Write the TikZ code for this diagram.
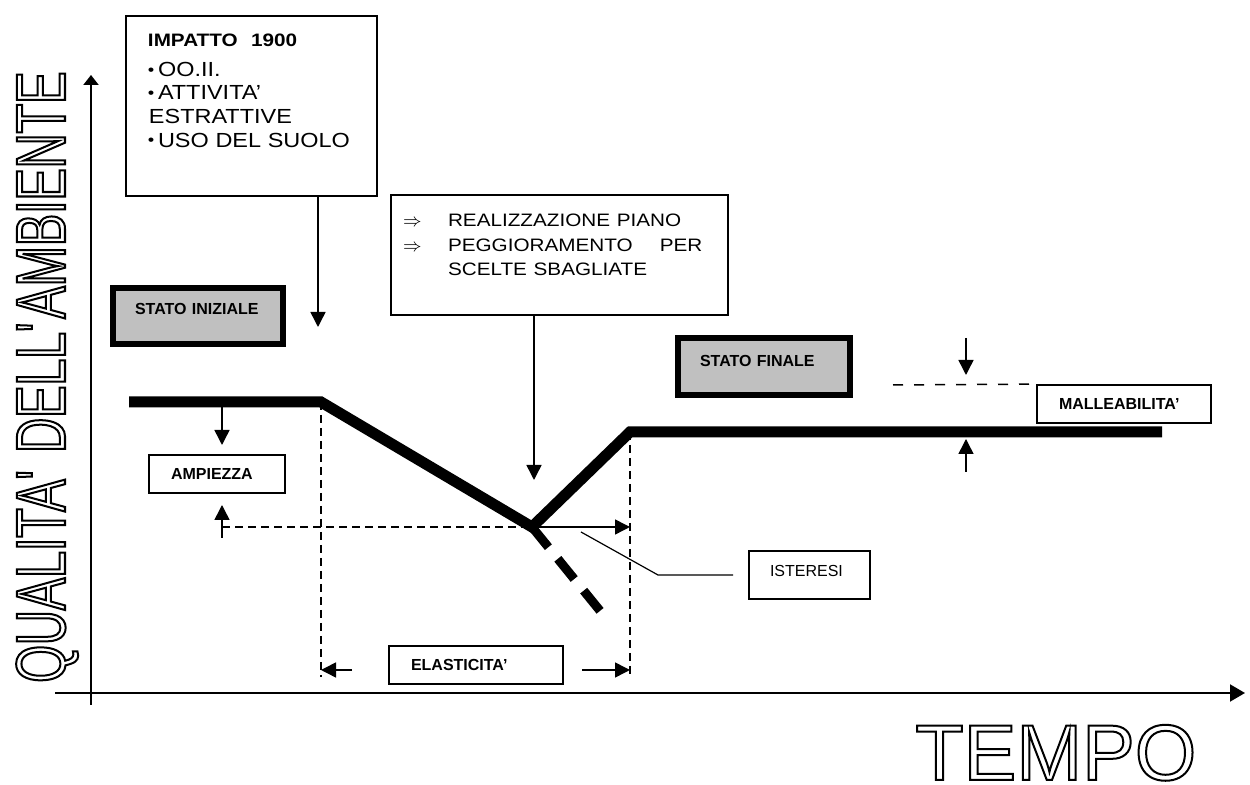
\documentclass[tikz,border=0pt]{standalone}
\usepackage{fontspec}
\setmainfont{Liberation Sans}
\newfontfamily\largo[FakeStretch=1.15,Ligatures=TeX]{Liberation Sans}
\newfontfamily\stretto[FakeStretch=0.69]{Liberation Sans}
\usetikzlibrary{arrows.meta,positioning}
\definecolor{grigiobox}{HTML}{C0C0C0}
\newcommand{\contorno}[1]{\special{pdf:literal direct 1 Tr 1 w}#1\special{pdf:literal direct 0 Tr}}
\newcommand{\punto}{\makebox[5pt][l]{\raisebox{0.6pt}{\fontsize{8}{8}\selectfont\textbullet}}}

\begin{document}
\begin{tikzpicture}[x=0.5pt, y=-0.5pt,
        >={Triangle[length=7.5pt,width=7.5pt]},
        sottile/.style={line width=0.75pt},
        tratto/.style={line width=0.75pt, dash pattern=on 4pt off 2.5pt},
        trattolungo/.style={line width=0.75pt, dash pattern=on 5pt off 5.5pt},
        lbl/.style={draw, line width=0.9pt, inner xsep=11pt, inner ysep=0pt, align=left,
            font=\bfseries\fontsize{8}{9.6}\selectfont, text height=5.8pt, text depth=0pt},
        stato/.style={lbl, fill=grigiobox, line width=3pt},
        nota/.style={draw, line width=1pt, anchor=north west, inner ysep=0pt, align=left}
    ]
        \useasboundingbox (0,0) rectangle (1250,785);

        % Axes
        \coordinate (ybasso) at (91,705);
        \coordinate (yalto) at (91,75);
        \coordinate (xsx) at (55,693);
        \coordinate (xdx) at (1245,693);
        \draw[line width=1pt, -{Triangle[length=5pt,width=7.5pt]}] (ybasso) -- (yalto);
        \draw[line width=1pt, -{Triangle[length=7.5pt,width=8.5pt]}] (xsx) -- (xdx);

        % Axis titles (outlined)
        \begin{scope}
            \node[rotate=90, anchor=base west, inner sep=0pt, font=\stretto\fontsize{35}{35}\selectfont]
                (titoloy) at (65,683) {\contorno{QUALITA\textquotesingle\ DELL\textquotesingle AMBIENTE}};
        \end{scope}
        \begin{scope}
            \node[anchor=base west, inner sep=0pt, font=\fontsize{39.5}{40}\selectfont]
                (titolox) at (915,780) {\contorno{TEMPO}};
        \end{scope}

        % Points of the curve
        \coordinate (p0) at (129,402);
        \coordinate (p1) at (321,402);
        \coordinate (vmin) at (532,527);
        \coordinate (p2) at (630,432);
        \coordinate (p3) at (1162,432);
        \coordinate (xtrap) at (601,612);

        % Boxes
        \node[nota, minimum width=125.5pt, inner xsep=11pt, text width=103.5pt,
            text height=15.2pt, text depth=74.8pt] (impatto) at (125,15) {%
            \largo\fontsize{10.2}{11.7}\selectfont
            {\bfseries\fontsize{9}{11.7}\selectfont IMPATTO\ \ 1900}\\[3.3pt]
            \punto OO.II.\\
            \punto ATTIVITA’\\
            \hspace*{0.5pt}ESTRATTIVE\\
            \punto USO DEL SUOLO};
        \node[nota, minimum width=168.5pt, inner xsep=6pt, text width=156.5pt,
            text height=15.7pt, text depth=44.3pt] (piano) at (390,194) {%
            \largo\fontsize{9}{12.75}\selectfont
            \makebox[22.5pt][l]{$\Rightarrow$}REALIZZAZIONE PIANO\\
            \makebox[22.5pt][l]{$\Rightarrow$}PEGGIORAMENTO\hspace{13.5pt}PER\\
            \hspace*{22.5pt}SCELTE SBAGLIATE};
        \node[stato, text width=63pt, minimum height=28pt, text depth=7pt] (iniziale) at (198,316) {STATO INIZIALE};
        \node[stato, text width=64pt, minimum height=28.5pt, text depth=5.5pt] (finale) at (764,366.5) {STATO FINALE};
        \node[lbl, text width=46pt, minimum height=19pt] (ampiezza) at (217,474) {AMPIEZZA};
        \node[lbl, text width=65pt, minimum height=19pt] (elasticita) at (476,665) {ELASTICITA’};
        \node[lbl, text width=65pt, minimum height=19pt] (malleabilita) at (1124,404) {MALLEABILITA’};
        \node[lbl, font=\fontsize{8}{9.6}\selectfont, inner xsep=10.5pt, text width=39.5pt,
            minimum height=24pt, text depth=4pt] (isteresi) at (809.5,575) {ISTERESI};

        % Dashed guides
        \coordinate (e0) at (352,670);
        \coordinate (e3) at (582,670);
        \foreach \p in {p1,p2}{
            \draw[tratto] (\p) -- ([yshift=-3.5pt]\p |- e0);
        }
        \coordinate (a3) at (222,538);
        \draw[tratto] (a3 |- vmin) -- (vmin);
        \coordinate (m0) at (893,385);
        \draw[trattolungo] (m0) -- (malleabilita.north west);

        % Quality curve
        \draw[line width=5.5pt] (p0) -- (p1) -- (vmin) -- (p2) -- (p3);
        \draw[line width=4.5pt, dash pattern=on 13pt off 7.5pt] (vmin) -- (xtrap);

        % Arrows from the notes
        \coordinate (f1) at (318,327);
        \coordinate (f2) at (534,480);
        \draw[sottile, ->] (impatto.south -| f1) -- (f1);
        \draw[sottile, ->] (piano.south -| f2) -- (f2);

        % Ampiezza
        \coordinate (a1) at (222,445);
        \coordinate (a2) at (222,505);
        \draw[sottile, ->] (p0 -| a1) -- (a1);
        \draw[sottile, ->] (a3) -- (a2);

        % Elasticita
        \draw[sottile, ->] (e0) -- (e0 -| p1);
        \draw[sottile, ->] (e3) -- (e3 -| p2);

        % Isteresi
        \coordinate (i0) at (581,532);
        \coordinate (i1) at (658,575);
        \draw[sottile, ->] (vmin) -- (vmin -| p2);
        \draw[line width=0.6pt] (i0) -- (i1) -- ([xshift=-7.5pt]isteresi.west);

        % Malleabilita
        \coordinate (m1) at (966,338);
        \coordinate (m2) at (966,375);
        \coordinate (m3) at (966,472);
        \coordinate (m4) at (966,439);
        \draw[sottile, ->] (m1) -- (m2);
        \draw[sottile, ->] (m3) -- (m4);
    \end{tikzpicture}
\end{document}
